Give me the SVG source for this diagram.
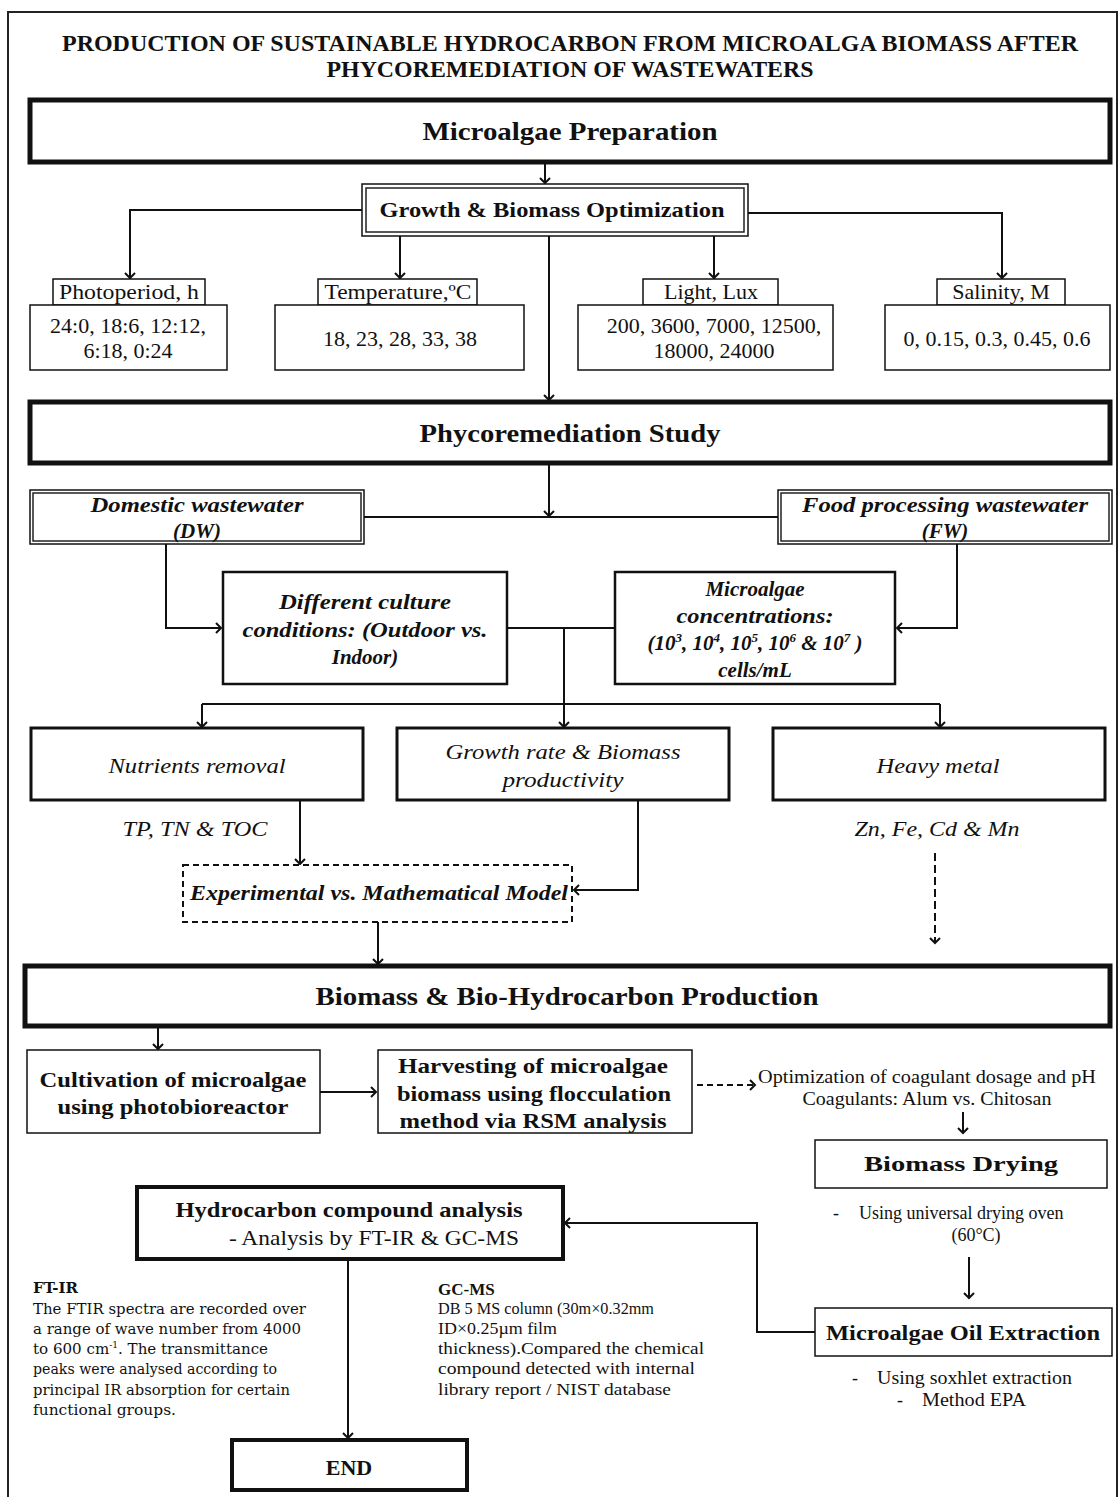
<svg xmlns="http://www.w3.org/2000/svg" width="1119" height="1497" viewBox="0 0 1119 1497">
<style>
text{font-family:"Liberation Serif","Times New Roman",serif;fill:#111}
.c{text-anchor:middle}
.b{font-weight:bold}
.i{font-style:italic}
.box{fill:#fff;stroke:#111}
.thick{stroke-width:5}
.med{stroke-width:2.5}
.thin{stroke-width:1.5}
.dbl{fill:none;stroke:#222;stroke-width:1.5}
.ln{fill:none;stroke:#111;stroke-width:2}
.arr{marker-end:url(#ah)}
.dash{stroke-dasharray:6,4}
.t22{font-size:22px}
.t21{font-size:21px}
.t18{font-size:18px}
.t17{font-size:17px}
.cam{font-family:"DejaVu Serif","Liberation Serif",serif;font-size:15px}
</style>
<defs>
<marker id="ah" markerUnits="userSpaceOnUse" markerWidth="14" markerHeight="14" refX="6" refY="6" orient="auto">
<path d="M1,1 L6,6 L1,11" fill="none" stroke="#111" stroke-width="2"/>
</marker>
</defs>
<rect x="8" y="12" width="1109" height="1500" fill="#fff" stroke="#222" stroke-width="2"/>
<g id="title">
<text class="c b" x="570" y="51" font-size="24" textLength="1016" lengthAdjust="spacingAndGlyphs">PRODUCTION OF SUSTAINABLE HYDROCARBON FROM MICROALGA BIOMASS AFTER</text>
<text class="c b" x="570" y="77" font-size="24" textLength="487" lengthAdjust="spacingAndGlyphs">PHYCOREMEDIATION OF WASTEWATERS</text>
</g>
<g id="connectors">
<path class="ln arr" d="M545,162 V183"/>
<path class="ln arr" d="M362,210 H130 V278"/>
<path class="ln arr" d="M400,236 V278"/>
<path class="ln arr" d="M714,236 V278"/>
<path class="ln arr" d="M748,213 H1002 V278"/>
<path class="ln arr" d="M549,236 V400" stroke-width="2.5"/>
<path class="ln arr" d="M549,463 V516"/>
<path class="ln" d="M364,517 H778"/>
<path class="ln arr" d="M166,544 V628 H221"/>
<path class="ln arr" d="M957,544 V628 H897"/>
<path class="ln" d="M507,628 H615"/>
<path class="ln arr" d="M564,628 V727"/>
<path class="ln" d="M202,704 H940"/>
<path class="ln arr" d="M202,704 V727"/>
<path class="ln arr" d="M940,704 V727"/>
<path class="ln arr" d="M300,800 V864"/>
<path class="ln arr" d="M638,800 V890 H574"/>
<path class="ln arr" d="M935,853 V943" stroke-dasharray="8,4"/>
<path class="ln arr" d="M378,922 V964"/>
<path class="ln arr" d="M158,1026 V1049"/>
<path class="ln arr" d="M320,1092 H376"/>
<path class="ln arr dash" d="M697,1085 H755"/>
<path class="ln arr" d="M963,1112 V1133"/>
<path class="ln arr" d="M969,1257 V1298"/>
<path class="ln arr" d="M815,1332 H757 V1223 H565"/>
<path class="ln arr" d="M348,1259 V1438"/>
</g>
<g id="microalgae-preparation">
<rect class="box thick" x="30" y="100" width="1080" height="62"/>
<text class="c b" x="570" y="140" font-size="25" textLength="295" lengthAdjust="spacingAndGlyphs">Microalgae Preparation</text>
</g>
<g id="growth-biomass-optimization">
<rect class="box" x="362" y="184" width="386" height="52" stroke-width="1.5"/>
<rect class="dbl" x="366" y="188" width="378" height="44"/>
<text class="c b" x="552" y="217" font-size="21" textLength="345" lengthAdjust="spacingAndGlyphs">Growth &amp; Biomass Optimization</text>
</g>
<g id="photoperiod">
<rect class="box thin" x="53" y="279" width="152" height="26"/>
<rect class="box thin" x="30" y="305" width="197" height="65"/>
<text class="c t22" x="129" y="299" textLength="140" lengthAdjust="spacingAndGlyphs">Photoperiod, h</text>
<text class="c t22" x="128" y="333">24:0, 18:6, 12:12,</text>
<text class="c t22" x="128" y="358">6:18, 0:24</text>
</g>
<g id="temperature">
<rect class="box thin" x="318" y="279" width="159" height="26"/>
<rect class="box thin" x="275" y="305" width="249" height="65"/>
<text class="c t22" x="398" y="299" textLength="147" lengthAdjust="spacingAndGlyphs">Temperature,ºC</text>
<text class="c t22" x="400" y="346">18, 23, 28, 33, 38</text>
</g>
<g id="light">
<rect class="box thin" x="643" y="279" width="135" height="26"/>
<rect class="box thin" x="578" y="305" width="255" height="65"/>
<text class="c t22" x="711" y="299">Light, Lux</text>
<text class="c t22" x="714" y="333">200, 3600, 7000, 12500,</text>
<text class="c t22" x="714" y="358">18000, 24000</text>
</g>
<g id="salinity">
<rect class="box thin" x="937" y="279" width="128" height="26"/>
<rect class="box thin" x="885" y="305" width="225" height="65"/>
<text class="c t22" x="1001" y="299">Salinity, M</text>
<text class="c t22" x="997" y="346">0, 0.15, 0.3, 0.45, 0.6</text>
</g>
<g id="phycoremediation-study">
<rect class="box thick" x="30" y="402" width="1080" height="61"/>
<text class="c b" x="570" y="442" font-size="25" textLength="301" lengthAdjust="spacingAndGlyphs">Phycoremediation Study</text>
</g>
<g id="domestic-wastewater">
<rect class="box" x="30" y="490" width="334" height="54" stroke-width="1.5"/>
<rect class="dbl" x="33" y="493" width="328" height="48"/>
<text class="c b i t21" x="197" y="512" textLength="213" lengthAdjust="spacingAndGlyphs">Domestic wastewater</text>
<text class="c b i t21" x="197" y="538">(DW)</text>
</g>
<g id="food-processing-wastewater">
<rect class="box" x="778" y="490" width="334" height="54" stroke-width="1.5"/>
<rect class="dbl" x="781" y="493" width="328" height="48"/>
<text class="c b i t21" x="945" y="512" textLength="286" lengthAdjust="spacingAndGlyphs">Food processing wastewater</text>
<text class="c b i t21" x="945" y="538">(FW)</text>
</g>
<g id="different-culture-conditions">
<rect class="box med" x="223" y="572" width="284" height="112"/>
<text class="c b i t21" x="365" y="609" textLength="172" lengthAdjust="spacingAndGlyphs">Different culture</text>
<text class="c b i t21" x="365" y="637" textLength="245" lengthAdjust="spacingAndGlyphs">conditions: (Outdoor vs.</text>
<text class="c b i t21" x="365" y="664">Indoor)</text>
</g>
<g id="microalgae-concentrations">
<rect class="box med" x="615" y="572" width="280" height="112"/>
<text class="c b i t21" x="755" y="596">Microalgae</text>
<text class="c b i t21" x="755" y="623" textLength="157" lengthAdjust="spacingAndGlyphs">concentrations:</text>
<text class="c b i t21" x="755" y="650">(10<tspan font-size="13" dy="-8">3</tspan><tspan dy="8">, 10</tspan><tspan font-size="13" dy="-8">4</tspan><tspan dy="8">, 10</tspan><tspan font-size="13" dy="-8">5</tspan><tspan dy="8">, 10</tspan><tspan font-size="13" dy="-8">6</tspan><tspan dy="8"> &amp; 10</tspan><tspan font-size="13" dy="-8">7</tspan><tspan dy="8"> )</tspan></text>
<text class="c b i t21" x="755" y="677">cells/mL</text>
</g>
<g id="nutrients-removal">
<rect class="box" x="31" y="728" width="332" height="72" stroke-width="3"/>
<text class="c i t21" x="197" y="773" textLength="177" lengthAdjust="spacingAndGlyphs">Nutrients removal</text>
</g>
<g id="growth-rate">
<rect class="box" x="397" y="728" width="332" height="72" stroke-width="3"/>
<text class="c i t21" x="563" y="759" textLength="235" lengthAdjust="spacingAndGlyphs">Growth rate &amp; Biomass</text>
<text class="c i t21" x="563" y="787" textLength="121" lengthAdjust="spacingAndGlyphs">productivity</text>
</g>
<g id="heavy-metal">
<rect class="box" x="773" y="728" width="332" height="72" stroke-width="3"/>
<text class="c i t21" x="938" y="773" textLength="123" lengthAdjust="spacingAndGlyphs">Heavy metal</text>
</g>
<g id="labels">
<text class="c i t21" x="195" y="836" textLength="145" lengthAdjust="spacingAndGlyphs">TP, TN &amp; TOC</text>
<text class="c i t21" x="937" y="836" textLength="165" lengthAdjust="spacingAndGlyphs">Zn, Fe, Cd &amp; Mn</text>
</g>
<g id="experimental-model">
<rect class="box dash" x="183" y="865" width="389" height="57" stroke-width="2"/>
<text class="c b i t21" x="379" y="900" textLength="378" lengthAdjust="spacingAndGlyphs">Experimental vs. Mathematical Model</text>
</g>
<g id="biomass-bio-hydrocarbon-production">
<rect class="box thick" x="25" y="966" width="1085" height="60"/>
<text class="c b" x="567" y="1005" font-size="25" textLength="503" lengthAdjust="spacingAndGlyphs">Biomass &amp; Bio-Hydrocarbon Production</text>
</g>
<g id="cultivation">
<rect class="box thin" x="27" y="1050" width="293" height="83"/>
<text class="c b t21" x="173" y="1087" textLength="267" lengthAdjust="spacingAndGlyphs">Cultivation of microalgae</text>
<text class="c b t21" x="173" y="1114" textLength="231" lengthAdjust="spacingAndGlyphs">using photobioreactor</text>
</g>
<g id="harvesting">
<rect class="box thin" x="378" y="1050" width="314" height="83"/>
<text class="c b t21" x="533" y="1073" textLength="270" lengthAdjust="spacingAndGlyphs">Harvesting of microalgae</text>
<text class="c b t21" x="534" y="1101" textLength="274" lengthAdjust="spacingAndGlyphs">biomass using flocculation</text>
<text class="c b t21" x="533" y="1128" textLength="267" lengthAdjust="spacingAndGlyphs">method via RSM analysis</text>
</g>
<g id="coagulant-notes">
<text class="c t18" x="927" y="1083" textLength="338" lengthAdjust="spacingAndGlyphs">Optimization of coagulant dosage and pH</text>
<text class="c t18" x="927" y="1105" textLength="249" lengthAdjust="spacingAndGlyphs">Coagulants: Alum vs. Chitosan</text>
</g>
<g id="biomass-drying">
<rect class="box thin" x="815" y="1140" width="292" height="48"/>
<text class="c b t21" x="961" y="1171" textLength="194" lengthAdjust="spacingAndGlyphs">Biomass Drying</text>
<text class="t18" x="833" y="1219">-</text>
<text class="t18" x="859" y="1219">Using universal drying oven</text>
<text class="c t18" x="976" y="1241">(60°C)</text>
</g>
<g id="microalgae-oil-extraction">
<rect class="box thin" x="815" y="1308" width="297" height="48"/>
<text class="c b t21" x="963" y="1340" textLength="274" lengthAdjust="spacingAndGlyphs">Microalgae Oil Extraction</text>
<text class="t18" x="852" y="1384">-</text>
<text class="t18" x="877" y="1384" textLength="195" lengthAdjust="spacingAndGlyphs">Using soxhlet extraction</text>
<text class="t18" x="897" y="1406">-</text>
<text class="t18" x="922" y="1406" textLength="104" lengthAdjust="spacingAndGlyphs">Method EPA</text>
</g>
<g id="hydrocarbon-compound-analysis">
<rect class="box" x="137" y="1187" width="426" height="72" stroke-width="4"/>
<text class="c b t21" x="349" y="1217" textLength="347" lengthAdjust="spacingAndGlyphs">Hydrocarbon compound analysis</text>
<text class="c t21" x="374" y="1245" textLength="290" lengthAdjust="spacingAndGlyphs">- Analysis by FT-IR &amp; GC-MS</text>
</g>
<g id="ftir-notes">
<text class="cam b" x="33" y="1293">FT-IR</text>
<text class="cam" x="33" y="1314" textLength="273" lengthAdjust="spacingAndGlyphs">The FTIR spectra are recorded over</text>
<text class="cam" x="33" y="1334" textLength="268" lengthAdjust="spacingAndGlyphs">a range of wave number from 4000</text>
<text class="cam" x="33" y="1354" textLength="235" lengthAdjust="spacingAndGlyphs">to 600 cm<tspan font-size="9" dy="-6">-1</tspan><tspan dy="6">. The transmittance</tspan></text>
<text class="cam" x="33" y="1374" textLength="244" lengthAdjust="spacingAndGlyphs">peaks were analysed according to</text>
<text class="cam" x="33" y="1395" textLength="257" lengthAdjust="spacingAndGlyphs">principal IR absorption for certain</text>
<text class="cam" x="33" y="1415" textLength="143" lengthAdjust="spacingAndGlyphs">functional groups.</text>
</g>
<g id="gcms-notes">
<text class="b t17" x="438" y="1295">GC-MS</text>
<text class="t17" x="438" y="1314" textLength="216" lengthAdjust="spacingAndGlyphs">DB 5 MS column (30m×0.32mm</text>
<text class="t17" x="438" y="1334" textLength="119" lengthAdjust="spacingAndGlyphs">ID×0.25µm film</text>
<text class="t17" x="438" y="1354" textLength="266" lengthAdjust="spacingAndGlyphs">thickness).Compared the chemical</text>
<text class="t17" x="438" y="1374" textLength="257" lengthAdjust="spacingAndGlyphs">compound detected with internal</text>
<text class="t17" x="438" y="1395" textLength="233" lengthAdjust="spacingAndGlyphs">library report / NIST database</text>
</g>
<g id="end">
<rect class="box" x="232" y="1440" width="235" height="50" stroke-width="4"/>
<text class="c b t22" x="349" y="1475">END</text>
</g>
</svg>
